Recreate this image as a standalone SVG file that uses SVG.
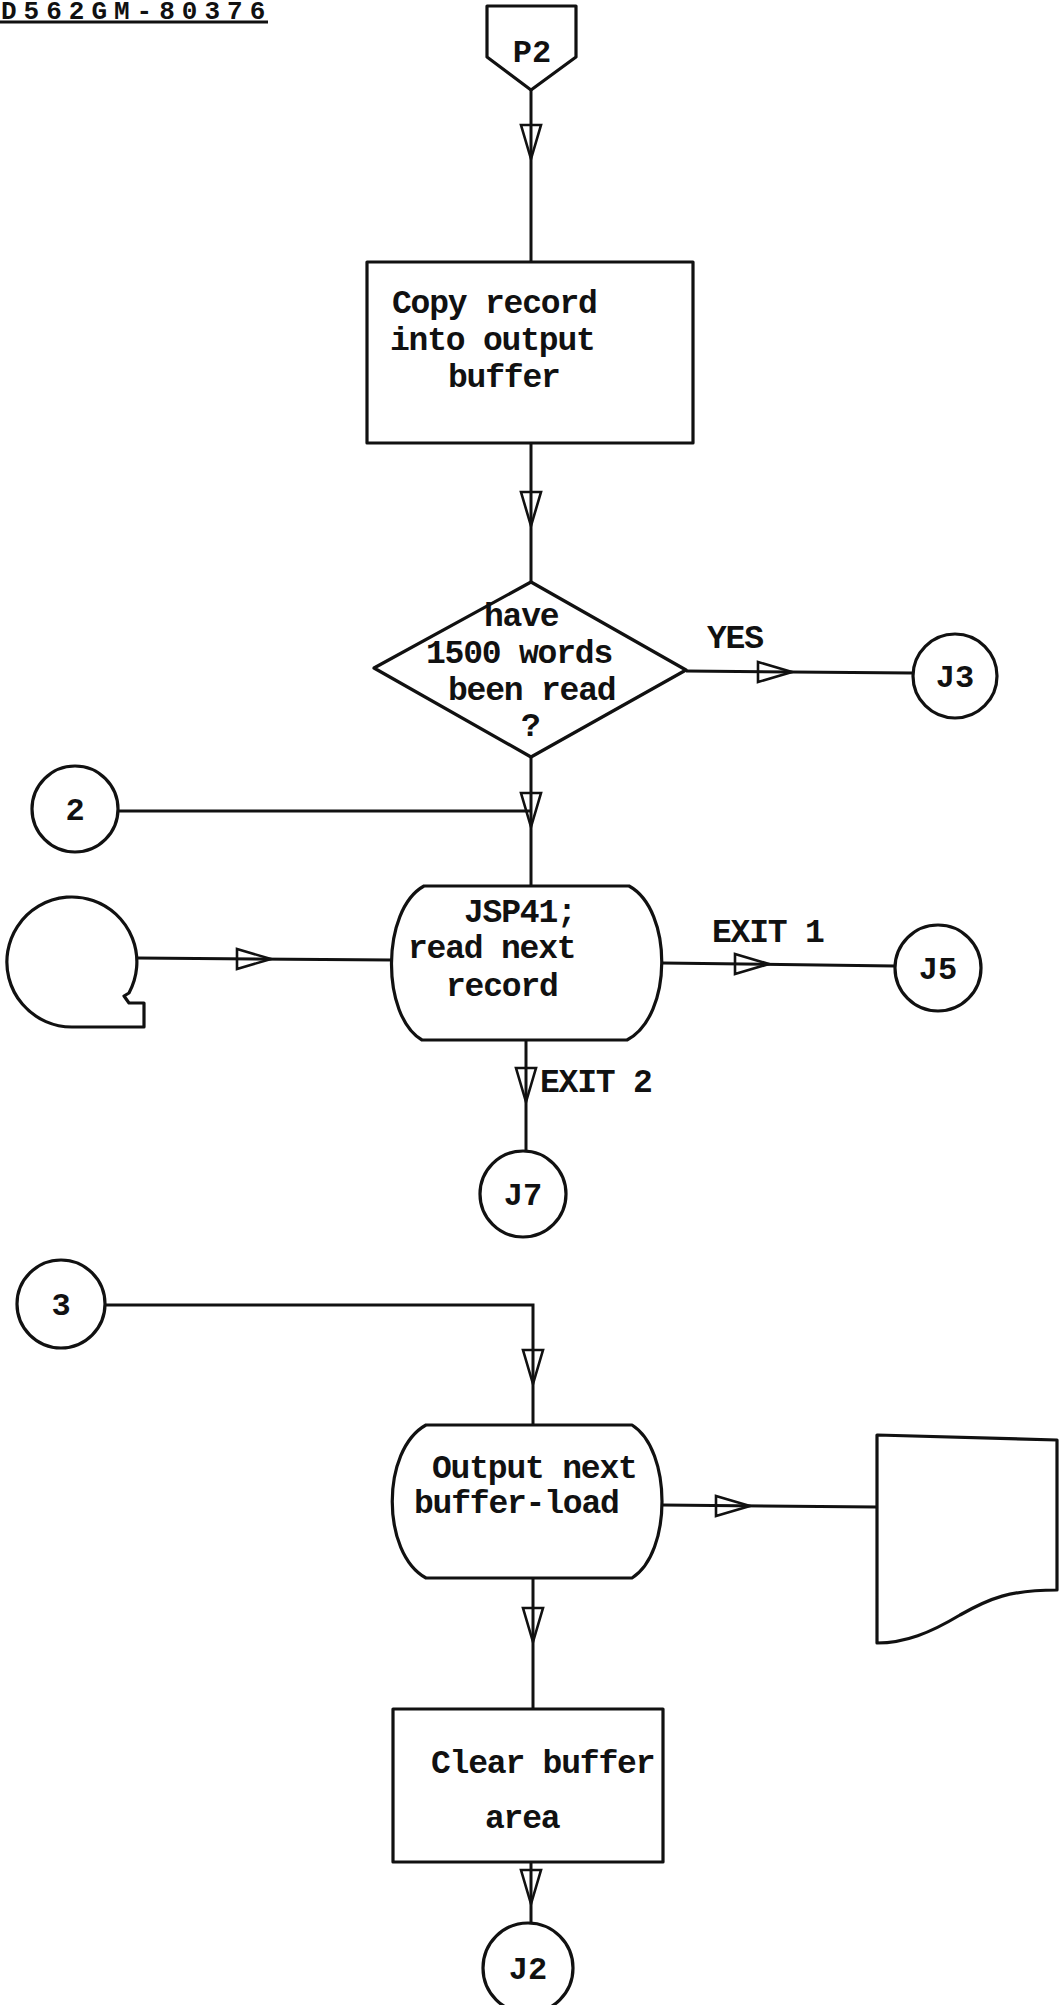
<svg xmlns="http://www.w3.org/2000/svg" xmlns:xlink="http://www.w3.org/1999/xlink" width="1059" height="2005" viewBox="0 0 1059 2005">
<style>
  .shape { fill: none; stroke: #111; stroke-width: 3.2; stroke-linejoin: round; }
  .line { fill: none; stroke: #111; stroke-width: 3; }
  .arrow { fill: none; stroke: #111; stroke-width: 2.6; stroke-linejoin: miter; }
  .t { font-family: "Liberation Mono", "Courier New", monospace; font-size: 33px; letter-spacing: -1.2px; fill: #111; font-weight: bold; }
  .c { font-family: "Liberation Mono", "Courier New", monospace; font-size: 32px; fill: #111; font-weight: bold; text-anchor: middle; }
  .hdr { font-family: "Liberation Mono", "Courier New", monospace; font-size: 26px; letter-spacing: 7px; fill: #111; font-weight: bold; }
</style>
<defs>
  <path id="av" d="M-10,0 L10,0 L0,34 Z"/>
</defs>
<rect x="0" y="0" width="1059" height="2005" fill="#fff"/>

<g id="header">
  <text class="hdr" x="1" y="19">D562GM-80376</text>
  <line class="line" x1="0" y1="22" x2="268" y2="22"/>
</g>

<g id="connectors">
  <line class="line" x1="531" y1="90" x2="531" y2="262"/>
  <use href="#av" class="arrow" transform="translate(531,125)"/>
  <line class="line" x1="531" y1="443" x2="531" y2="582"/>
  <use href="#av" class="arrow" transform="translate(531,492)"/>
  <line class="line" x1="686" y1="671" x2="912" y2="673"/>
  <use href="#av" class="arrow" transform="translate(758,672) rotate(-90)"/>
  <line class="line" x1="531" y1="757" x2="531" y2="886"/>
  <line class="line" x1="118" y1="811" x2="531" y2="811"/>
  <use href="#av" class="arrow" transform="translate(531,793)"/>
  <line class="line" x1="137" y1="958" x2="392" y2="960"/>
  <use href="#av" class="arrow" transform="translate(237,959) rotate(-90)"/>
  <line class="line" x1="662" y1="963" x2="895" y2="966"/>
  <use href="#av" class="arrow" transform="translate(735,964) rotate(-90)"/>
  <line class="line" x1="526" y1="1040" x2="526" y2="1151"/>
  <use href="#av" class="arrow" transform="translate(526,1068)"/>
  <polyline class="line" points="105,1305 533,1305 533,1425"/>
  <use href="#av" class="arrow" transform="translate(533,1350)"/>
  <line class="line" x1="662" y1="1505" x2="877" y2="1507"/>
  <use href="#av" class="arrow" transform="translate(716,1506) rotate(-90)"/>
  <line class="line" x1="533" y1="1578" x2="533" y2="1709"/>
  <use href="#av" class="arrow" transform="translate(533,1608)"/>
  <line class="line" x1="531" y1="1862" x2="531" y2="1923"/>
  <use href="#av" class="arrow" transform="translate(531,1870)"/>
</g>

<g id="P2">
  <path class="shape" d="M487,6 L576,6 L576,57 L531,90 L487,57 Z"/>
  <text class="c" x="532" y="62">P2</text>
</g>

<g id="copy-record">
  <rect class="shape" x="367" y="262" width="326" height="181"/>
  <text class="t" x="392" y="313">Copy record</text>
  <text class="t" x="390" y="350">into output</text>
  <text class="t" x="448" y="387">buffer</text>
</g>

<g id="decision">
  <path class="shape" d="M531,582 L686,670 L531,757 L374,668 Z"/>
  <text class="t" x="484" y="626">have</text>
  <text class="t" x="426" y="663">1500 words</text>
  <text class="t" x="448" y="700">been read</text>
  <text class="t" x="521" y="736">?</text>
</g>

<g id="label-yes">
  <text class="t" x="707" y="648">YES</text>
</g>

<g id="J3">
  <circle class="shape" cx="955" cy="676" r="42"/>
  <text class="c" x="955" y="687">J3</text>
</g>

<g id="conn-2">
  <circle class="shape" cx="75" cy="809" r="43"/>
  <text class="c" x="75" y="820">2</text>
</g>

<g id="tape">
  <path class="shape" d="M72,1027 A65,65 0 1 1 129,993 L124,996 L129,1003 L144,1003 L144,1027 Z"/>
</g>

<g id="jsp41">
  <path class="shape" d="M424,886 L629,886 C673,910 673,1016 627,1040 L422,1040 C381,1016 381,910 424,886 Z"/>
  <text class="t" x="464" y="922">JSP41;</text>
  <text class="t" x="408" y="958">read next</text>
  <text class="t" x="446" y="996">record</text>
</g>

<g id="label-exit1">
  <text class="t" x="712" y="942">EXIT 1</text>
</g>

<g id="J5">
  <circle class="shape" cx="938" cy="968" r="43"/>
  <text class="c" x="938" y="979">J5</text>
</g>

<g id="label-exit2">
  <text class="t" x="540" y="1092">EXIT 2</text>
</g>

<g id="J7">
  <circle class="shape" cx="523" cy="1194" r="43"/>
  <text class="c" x="523" y="1205">J7</text>
</g>

<g id="conn-3">
  <circle class="shape" cx="61" cy="1304" r="44"/>
  <text class="c" x="61" y="1315">3</text>
</g>

<g id="output">
  <path class="shape" d="M426,1425 L632,1425 C672,1450 672,1553 632,1578 L426,1578 C381,1553 381,1450 426,1425 Z"/>
  <text class="t" x="432" y="1478">Output next</text>
  <text class="t" x="414" y="1513">buffer-load</text>
</g>

<g id="document">
  <path class="shape" d="M877,1435 L1057,1440 L1057,1590 C1010,1590 990,1598 960,1615 C930,1633 905,1643 877,1643 Z"/>
</g>

<g id="clear-buffer">
  <rect class="shape" x="393" y="1709" width="270" height="153"/>
  <text class="t" x="431" y="1773">Clear buffer</text>
  <text class="t" x="485" y="1828">area</text>
</g>

<g id="J2">
  <circle class="shape" cx="528" cy="1968" r="45"/>
  <text class="c" x="528" y="1979">J2</text>
</g>
</svg>
